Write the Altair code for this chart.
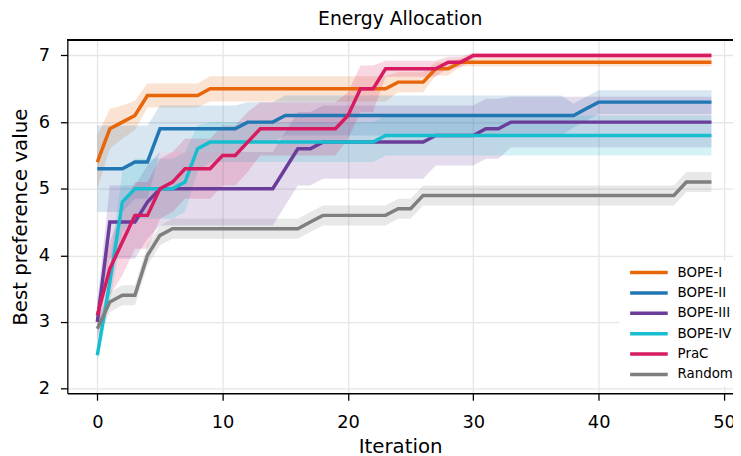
import altair as alt
import pandas as pd

iterations = list(range(50))
series_names = ["BOPE-I", "BOPE-II", "BOPE-III", "BOPE-IV", "PraC", "Random"]
series_colors = ["#e8650a", "#2077b4", "#6b3d9a", "#17becf", "#d81b60", "#7f7f7f"]
line_widths = [3.5, 3.5, 3.5, 3.5, 5, 3.5]

bope1 = [5.4, 5.9, 6.0, 6.1, 6.4, 6.4, 6.4, 6.4, 6.4, 6.5,
         6.5, 6.5, 6.5, 6.5, 6.5, 6.5, 6.5, 6.5, 6.5, 6.5,
         6.5, 6.5, 6.5, 6.5, 6.6, 6.6, 6.6, 6.8, 6.8, 6.9,
         6.9, 6.9, 6.9, 6.9, 6.9, 6.9, 6.9, 6.9, 6.9, 6.9,
         6.9, 6.9, 6.9, 6.9, 6.9, 6.9, 6.9, 6.9, 6.9, 6.9]
bope1_sd = [0.4, 0.3, 0.25, 0.22, 0.18, 0.18, 0.18, 0.18, 0.18, 0.19,
            0.19, 0.19, 0.19, 0.19, 0.19, 0.19, 0.19, 0.19, 0.19, 0.19,
            0.19, 0.19, 0.19, 0.19, 0.15, 0.15, 0.15, 0.1, 0.1, 0.06,
            0.06, 0.06, 0.06, 0.06, 0.06, 0.06, 0.06, 0.06, 0.06, 0.06,
            0.06, 0.06, 0.06, 0.06, 0.06, 0.06, 0.06, 0.06, 0.06, 0.06]

bope2 = [5.3, 5.3, 5.3, 5.4, 5.4, 5.9, 5.9, 5.9, 5.9, 5.9,
         5.9, 5.9, 6.0, 6.0, 6.0, 6.1, 6.1, 6.1, 6.1, 6.1,
         6.1, 6.1, 6.1, 6.1, 6.1, 6.1, 6.1, 6.1, 6.1, 6.1,
         6.1, 6.1, 6.1, 6.1, 6.1, 6.1, 6.1, 6.1, 6.1, 6.2,
         6.3, 6.3, 6.3, 6.3, 6.3, 6.3, 6.3, 6.3, 6.3, 6.3]
bope2_sd = [0.65, 0.65, 0.65, 0.55, 0.55, 0.35, 0.35, 0.35, 0.35, 0.35,
            0.35, 0.35, 0.3, 0.3, 0.3, 0.3, 0.3, 0.3, 0.3, 0.3,
            0.3, 0.3, 0.3, 0.3, 0.3, 0.3, 0.3, 0.3, 0.3, 0.3,
            0.3, 0.3, 0.3, 0.3, 0.3, 0.3, 0.3, 0.3, 0.18, 0.18,
            0.18, 0.18, 0.18, 0.18, 0.18, 0.18, 0.18, 0.18, 0.18, 0.18]

bope3 = [3.0, 4.5, 4.5, 4.5, 4.8, 5.0, 5.0, 5.0, 5.0, 5.0,
         5.0, 5.0, 5.0, 5.0, 5.0, 5.3, 5.6, 5.6, 5.7, 5.7,
         5.7, 5.7, 5.7, 5.7, 5.7, 5.7, 5.7, 5.8, 5.8, 5.8,
         5.8, 5.9, 5.9, 6.0, 6.0, 6.0, 6.0, 6.0, 6.0, 6.0,
         6.0, 6.0, 6.0, 6.0, 6.0, 6.0, 6.0, 6.0, 6.0, 6.0]
bope3_sd = [0.3, 0.55, 0.55, 0.55, 0.55, 0.55, 0.55, 0.55, 0.55, 0.55,
            0.55, 0.55, 0.55, 0.55, 0.55, 0.55, 0.55, 0.55, 0.55, 0.55,
            0.55, 0.55, 0.55, 0.55, 0.55, 0.55, 0.55, 0.45, 0.45, 0.45,
            0.45, 0.45, 0.45, 0.38, 0.38, 0.38, 0.38, 0.38, 0.38, 0.38,
            0.38, 0.38, 0.38, 0.38, 0.38, 0.38, 0.38, 0.38, 0.38, 0.38]

bope4 = [2.5, 3.6, 4.8, 5.0, 5.0, 5.0, 5.0, 5.1, 5.6, 5.7,
         5.7, 5.7, 5.7, 5.7, 5.7, 5.7, 5.7, 5.7, 5.7, 5.7,
         5.7, 5.7, 5.7, 5.8, 5.8, 5.8, 5.8, 5.8, 5.8, 5.8,
         5.8, 5.8, 5.8, 5.8, 5.8, 5.8, 5.8, 5.8, 5.8, 5.8,
         5.8, 5.8, 5.8, 5.8, 5.8, 5.8, 5.8, 5.8, 5.8, 5.8]
bope4_sd = [0.1, 0.3, 0.45, 0.45, 0.45, 0.45, 0.45, 0.45, 0.35, 0.3,
            0.3, 0.3, 0.3, 0.3, 0.3, 0.3, 0.3, 0.3, 0.3, 0.3,
            0.3, 0.3, 0.3, 0.3, 0.3, 0.3, 0.3, 0.3, 0.3, 0.3,
            0.3, 0.3, 0.3, 0.3, 0.3, 0.3, 0.3, 0.3, 0.3, 0.3,
            0.3, 0.3, 0.3, 0.3, 0.3, 0.3, 0.3, 0.3, 0.3, 0.3]

prac = [3.1, 3.8, 4.2, 4.6, 4.6, 5.0, 5.1, 5.3, 5.3, 5.3,
        5.5, 5.5, 5.7, 5.9, 5.9, 5.9, 5.9, 5.9, 5.9, 5.9,
        6.1, 6.5, 6.5, 6.8, 6.8, 6.8, 6.8, 6.8, 6.9, 6.9,
        7.0, 7.0, 7.0, 7.0, 7.0, 7.0, 7.0, 7.0, 7.0, 7.0,
        7.0, 7.0, 7.0, 7.0, 7.0, 7.0, 7.0, 7.0, 7.0, 7.0]
prac_sd = [0.2, 0.4, 0.5, 0.5, 0.5, 0.45, 0.45, 0.45, 0.45, 0.45,
           0.45, 0.45, 0.45, 0.4, 0.4, 0.4, 0.4, 0.4, 0.4, 0.4,
           0.35, 0.35, 0.35, 0.12, 0.12, 0.12, 0.12, 0.12, 0.08, 0.08,
           0.04, 0.04, 0.04, 0.04, 0.04, 0.04, 0.04, 0.04, 0.04, 0.04,
           0.04, 0.04, 0.04, 0.04, 0.04, 0.04, 0.04, 0.04, 0.04, 0.04]

rand = [2.9, 3.3, 3.4, 3.4, 4.0, 4.3, 4.4, 4.4, 4.4, 4.4,
        4.4, 4.4, 4.4, 4.4, 4.4, 4.4, 4.4, 4.5, 4.6, 4.6,
        4.6, 4.6, 4.6, 4.6, 4.7, 4.7, 4.9, 4.9, 4.9, 4.9,
        4.9, 4.9, 4.9, 4.9, 4.9, 4.9, 4.9, 4.9, 4.9, 4.9,
        4.9, 4.9, 4.9, 4.9, 4.9, 4.9, 4.9, 5.1, 5.1, 5.1]
rand_sd = [0.15] * 50

y_ticks = [2, 3, 4, 5, 6, 7]
x_ticks = [0, 10, 20, 30, 40, 50]

means = [bope1, bope2, bope3, bope4, prac, rand]
sds = [bope1_sd, bope2_sd, bope3_sd, bope4_sd, prac_sd, rand_sd]

rows = []
for name, m, s in zip(series_names, means, sds):
    for i, v, d in zip(iterations, m, s):
        rows.append({"series": name, "iteration": i, "value": v,
                     "lower": v - d, "upper": v + d})
df = pd.DataFrame(rows)

FONT = "DejaVu Sans"
W, H = 673, 357

x_enc = alt.X("iteration:Q",
              scale=alt.Scale(domain=[-2.39, 50.72], nice=False, zero=False),
              axis=alt.Axis(title="Iteration", values=x_ticks, format="d"))
y_scale = alt.Scale(domain=[1.93, 7.23], nice=False, zero=False)
color_scale = alt.Scale(domain=series_names, range=series_colors)
legend = alt.Legend(title=None, orient="none", legendX=558, legendY=223,
                    symbolType="M-3.8,0L3.8,0", symbolSize=100,
                    symbolOffset=18, rowPadding=6.6,
                    labelFontSize=13.5, labelFont=FONT, labelLimit=300,
                    labelColor="black", labelOffset=22,
                    fillColor="white", padding=5, cornerRadius=3)

base = alt.Chart(df)

band_layers = []
for name, col in zip(series_names, series_colors):
    band_layers.append(
        base.transform_filter(alt.datum.series == name)
        .mark_area(color=col, opacity=0.18)
        .encode(x=x_enc, y=alt.Y("lower:Q", scale=y_scale), y2="upper:Q")
    )

lines = base.mark_line().encode(
    x=x_enc,
    y=alt.Y("value:Q", scale=y_scale,
            axis=alt.Axis(title="Best preference value", values=y_ticks, format="d")),
    color=alt.Color("series:N", scale=color_scale, legend=legend),
    strokeWidth=alt.StrokeWidth("series:N",
                                scale=alt.Scale(domain=series_names, range=line_widths),
                                legend=legend),
)

top_rule = alt.Chart(df).mark_rule(color="black", strokeWidth=1.3).encode(
    x=alt.value(0), x2=alt.value(W), y=alt.value(0)
)

chart = alt.layer(*band_layers, lines, top_rule).properties(
    width=W, height=H,
    title=alt.Title("Energy Allocation", fontSize=19, font=FONT,
                    fontWeight="normal", color="black", offset=11),
    autosize=alt.AutoSizeParams(type="none"),
    padding={"left": 60, "top": 30, "right": 0, "bottom": 70},
).configure_view(stroke=None).configure_axis(
    labelFont=FONT, titleFont=FONT, labelFontSize=18, titleFontSize=20,
    labelColor="black", titleColor="black", titleFontWeight="normal",
    domainColor="black", domainWidth=1.3, tickColor="black", tickWidth=1.3,
    tickSize=7, gridColor="#e6e6e6", gridWidth=1.3,
).configure_axisX(labelPadding=14, titlePadding=5).configure_axisY(titlePadding=8, labelPadding=11)

chart.save("out.html", embed_options={"renderer": "svg", "actions": False})
